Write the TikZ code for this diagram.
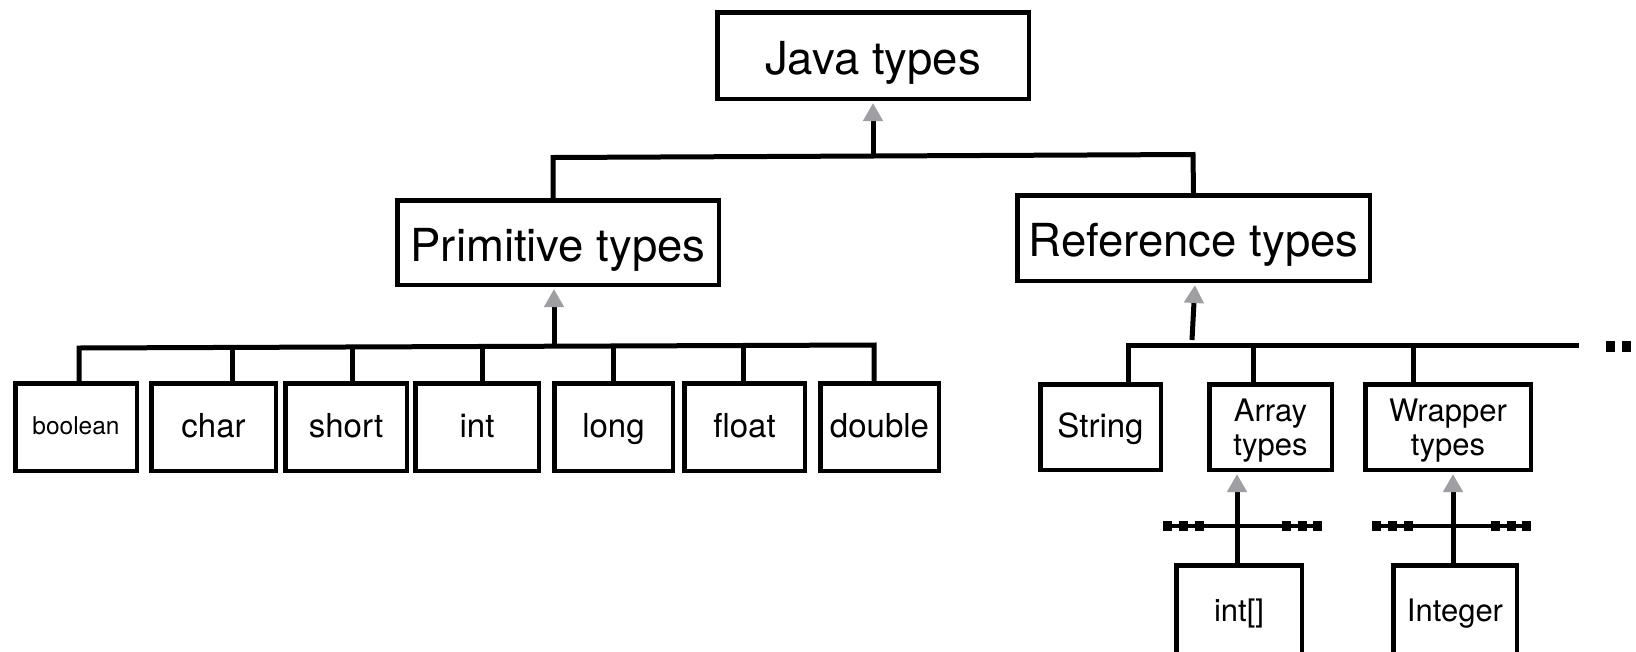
\documentclass[tikz,border=0pt]{standalone}
\usepackage{fontspec}
\setmainfont{TeX Gyre Heros}
\usetikzlibrary{arrows.meta}
\definecolor{tipgray}{RGB}{158,158,163}
\begin{document}
\begin{tikzpicture}[x=1pt,y=-1pt,
  box/.style={draw, line width=4.5pt, inner sep=0pt, rectangle},
  twobox/.style={draw, line width=4.5pt, inner sep=0pt, rectangle, align=center, text depth=-3pt},
  bigf/.style={font=\fontsize{45.5}{54}\selectfont, text height=47pt, text depth=10pt},
  leaff/.style={font=\fontsize{33}{40}\selectfont, text height=28pt, text depth=8pt},
  smallf/.style={font=\fontsize{31}{34}\selectfont, text height=16pt, text depth=8pt},
  tinyf/.style={font=\fontsize{24.5}{30}\selectfont, text height=21pt, text depth=6pt},
  twof/.style={font=\fontsize{31}{34}\selectfont},
  ln/.style={line width=5pt, line join=miter},
  arr/.style={line width=5pt, -{Triangle[length=18pt,width=19pt,color=tipgray]}, shorten >=2pt},
  stub/.pic={
    \draw[line width=4pt] (0,0) -- (159,0);
    \foreach \o in {0,16,32,119,135,150} \fill (\o,-5) rectangle ++(9,10);
  }]
\useasboundingbox (0,0) rectangle (1636,651);
\clip (0,0) rectangle (1636,651);

% top levels
\node[box, bigf, minimum width=311.5pt, minimum height=86.5pt] (java) at (873,55.5) {Java types};
\node[box, bigf, minimum width=321.5pt, minimum height=84.5pt] (prim) at (558,242.5) {Primitive types};
\node[box, bigf, minimum width=352.5pt, minimum height=85.5pt] (ref) at (1193.5,238) {Reference types};

% primitive leaves
\node[box, tinyf, minimum width=121.5pt, minimum height=87.5pt] (boolean) at (76,427) {boolean};
\node[box, leaff, minimum width=124.5pt, minimum height=87.5pt] (char) at (213.5,427) {char};
\node[box, leaff, minimum width=121.5pt, minimum height=87.5pt] (short) at (346,427) {short};
\node[box, leaff, minimum width=123.5pt, minimum height=87.5pt] (int) at (477,427) {int};
\node[box, leaff, minimum width=118.5pt, minimum height=87.5pt] (long) at (613.5,427) {long};
\node[box, leaff, minimum width=120.5pt, minimum height=87.5pt] (float) at (744.5,427) {float};
\node[box, leaff, minimum width=118.5pt, minimum height=87.5pt] (double) at (879.5,427) {double};

% reference leaves
\node[box, leaff, minimum width=120.5pt, minimum height=85.5pt] (string) at (1100.5,427) {String};
\node[twobox, twof, minimum width=122.5pt, minimum height=85.5pt] (array) at (1270.5,427) {Array\\types};
\node[twobox, twof, minimum width=165.5pt, minimum height=85.5pt] (wrapper) at (1448,427) {Wrapper\\types};

% bottom boxes
\node[box, smallf, minimum width=125.5pt, minimum height=103.5pt] (intarr) at (1239,617) {int[]};
\node[box, smallf, minimum width=123.5pt, minimum height=103.5pt] (integer) at (1455,617) {Integer};

% top bar
\coordinate (ptop) at (553,157.5);
\coordinate (rtop) at (1193,154.5);
\coordinate (jbar) at (873,156);
\draw[ln] (ptop |- prim.north) -- (ptop) -- (rtop) -- (ref.north);
\draw[arr] (jbar) -- (jbar |- java.south);

% primitive bar
\coordinate (lbl) at (79,348);
\coordinate (lbr) at (874,345);
\coordinate (pbar) at (554,346.5);
\draw[ln] (lbl |- boolean.north) -- (lbl) -- (lbr) -- (lbr |- double.north);
\foreach \n/\x in {char/232, short/352, int/482, long/613, float/743}
  \draw[ln] (\x,346.5) -- (\x,0 |- \n.north);
\draw[arr] (pbar) -- (pbar |- prim.south);

% reference bar
\coordinate (rbl) at (1128,345.5);
\coordinate (rbr) at (1579,345.5);
\coordinate (rarr) at (1192,340);
\draw[ln] (rbl |- string.north) -- (rbl) -- (rbr);
\foreach \n/\x in {array/1253, wrapper/1413}
  \draw[ln] (\x,345.5) -- (\x,0 |- \n.north);
\draw[arr] (rarr) -- (1195,0 |- ref.south);
\fill (1606,341) rectangle (1614.5,352);
\fill (1622,341) rectangle (1631,352);

% bottom stubs and arrows
\pic at (1163,526) {stub};
\pic at (1372,526) {stub};
\draw[arr] (1237,0 |- intarr.north) -- (1237,0 |- array.south);
\draw[arr] (1453,0 |- integer.north) -- (1453,0 |- wrapper.south);
\end{tikzpicture}
\end{document}
